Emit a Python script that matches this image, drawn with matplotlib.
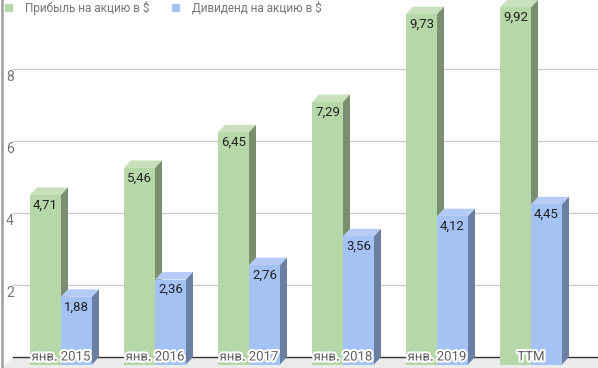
import matplotlib
matplotlib.use("Agg")
import matplotlib.pyplot as plt
from matplotlib.patches import Polygon, Rectangle
import matplotlib.patheffects as pe

categories = ["янв. 2015", "янв. 2016", "янв. 2017", "янв. 2018", "янв. 2019", "TTM"]
eps = [4.71, 5.46, 6.45, 7.29, 9.73, 9.92]
dividends = [1.88, 2.36, 2.76, 3.56, 4.12, 4.45]
series_names = ["Прибыль на акцию в $", "Дивиденд на акцию в $"]
yticks = [2, 4, 6, 8]

plt.rcParams['font.family'] = ['Roboto', 'DejaVu Sans']

W, H = 598, 368
fig = plt.figure(figsize=(W / 100, H / 100), dpi=100)
ax = fig.add_axes([0, 0, 1, 1])
ax.axis('off')

# scales: pixels per unit
PX_X = 94.0   # pixels per category
PX_Y = 36.0   # pixels per value unit
X0_PX = 61.0  # pixel of first category centre
Y0_PX = 357.0 # pixel (from top) of value zero
ax.set_xlim(-X0_PX / PX_X, (W - X0_PX) / PX_X)
ax.set_ylim(-(H - Y0_PX) / PX_Y, Y0_PX / PX_Y)

def px_x(p):
    return p / PX_X

def px_y(p):
    return p / PX_Y

# floor
floor_left = ax.get_xlim()[0]
ax.add_patch(Polygon([(floor_left + px_x(13), 0), (floor_left + px_x(W), 0),
                      (floor_left + px_x(W), ax.get_ylim()[0]),
                      (floor_left + px_x(2), ax.get_ylim()[0])],
                     closed=True, facecolor='#ebebeb', edgecolor='none', zorder=1))

# gridlines and tick labels
for t in yticks:
    ax.plot([floor_left + px_x(13), floor_left + px_x(W)], [t, t], color='#cccccc', lw=1.0, zorder=1)
    ax.text(floor_left + px_x(10), t - px_y(8), str(t), ha='center', va='center',
            fontsize=10, color='#757575', zorder=2)
ax.plot([floor_left + px_x(13), floor_left + px_x(W)], [0, 0], color='#333333', lw=1.0, zorder=2)
# left axis line
ax.plot([floor_left + px_x(1.5), floor_left + px_x(1.5)], ax.get_ylim(), color='#9e9e9e', lw=1.8, zorder=2)

BW = px_x(31)
DX = px_x(7)
DY = px_y(7.5)

def bar3d(x0, v, front, top, side, z):
    ax.add_patch(Rectangle((x0, -DY), BW, v, facecolor=front, edgecolor='none', zorder=z))
    ax.add_patch(Polygon([(x0, v - DY), (x0 + BW, v - DY), (x0 + BW + DX, v), (x0 + DX, v)],
                         closed=True, facecolor=top, edgecolor='none', zorder=z))
    ax.add_patch(Polygon([(x0 + BW, -DY), (x0 + BW + DX, 0), (x0 + BW + DX, v), (x0 + BW, v - DY)],
                         closed=True, facecolor=side, edgecolor='none', zorder=z))

green = ('#b6d7a8', '#c8e1bc', '#7a8f6f')
blue = ('#a4c2f4', '#b5cdf6', '#6b7fa3')

for i, (e, d) in enumerate(zip(eps, dividends)):
    bar3d(i - BW, e, *green, z=3 + i * 2)
    bar3d(i, d, *blue, z=4 + i * 2)
    ax.text(i - BW / 2, e - DY - px_y(10), f"{e:.2f}".replace('.', ','), ha='center', va='center',
            fontsize=9.5, color='#222222', zorder=20)
    ax.text(i + BW / 2, d - DY - px_y(10), f"{d:.2f}".replace('.', ','), ha='center', va='center',
            fontsize=9.5, color='#222222', zorder=20)
    ax.text(i, 0, categories[i], ha='center', va='center', fontsize=9.5, color='#5f5f5f', zorder=21,
            path_effects=[pe.withStroke(linewidth=3, foreground='white')])

# legend
ytop = ax.get_ylim()[1]
for k, (name, col) in enumerate(zip(series_names, [green[0], blue[0]])):
    lx = floor_left + px_x([5, 172][k])
    ax.add_patch(Rectangle((lx, ytop - px_y(12)), px_x(8), px_y(8), facecolor=col, edgecolor='none', zorder=30))
    ax.text(lx + px_x(20), ytop - px_y(7.5), name, ha='left', va='center', fontsize=8.5,
            color='#757575', zorder=30)

fig.savefig('out.png', dpi=100)
